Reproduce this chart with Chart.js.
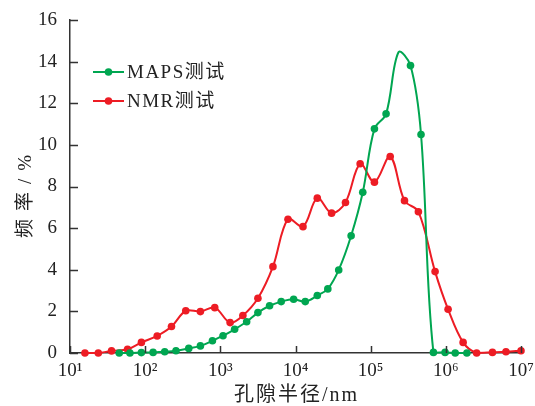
<!DOCTYPE html>
<html>
<head>
<meta charset="utf-8">
<script src="https://cdn.jsdelivr.net/npm/chart.js@4.4.1/dist/chart.umd.min.js"></script>
<style>
html,body{margin:0;padding:0;background:#fff;}
#wrap{width:535px;height:406px;position:relative;}
</style>
</head>
<body>
<div id="wrap"><canvas id="c" width="535" height="406"></canvas></div>
<script>
// pore radius (nm) and frequency (%)
const mapsRadius = [45.2, 62.7, 89.1, 127.4, 182, 257, 380, 543, 785, 1086, 1549, 2239, 3162, 4519, 6457, 9441, 13490, 19498, 26915, 37584, 54954, 78524, 112202, 160325, 234423, 338844, 467735, 683912, 977237, 1333521, 1905461];
const mapsFreq   = [0, 0, 0.02, 0.03, 0.06, 0.11, 0.22, 0.34, 0.59, 0.83, 1.14, 1.5, 1.94, 2.27, 2.47, 2.58, 2.47, 2.76, 3.08, 3.99, 5.63, 7.72, 10.77, 11.49, 14.45, 13.81, 10.5, 0.03, 0.03, 0, 0];
const mapsHidden = [24]; // index of the curve point drawn without a marker
const nmrRadius  = [15.8, 23.8, 35.7, 58.3, 89.1, 144.5, 223.9, 346.7, 543, 843, 1349, 1995, 3162, 5012, 7943, 12589, 19498, 30200, 46238, 72444, 112202, 181970, 281838, 431519, 719449, 1071519, 1698244, 2570396, 4168694, 6309573, 10000000];
const nmrFreq    = [0, 0, 0.1, 0.18, 0.51, 0.82, 1.27, 2.03, 1.99, 2.18, 1.46, 1.8, 2.63, 4.15, 6.43, 6.07, 7.44, 6.72, 7.23, 9.09, 8.21, 9.44, 7.32, 6.79, 3.91, 2.10, 0.51, 0.0, 0.03, 0.06, 0.11];
const seriesNames = ['MAPS测试', 'NMR测试'];
const xTickExps = [1, 2, 3, 4, 5, 6, 7];
const yTicks = [0, 2, 4, 6, 8, 10, 12, 14, 16];
const xTitle = '孔隙半径/nm';
const yTitle = '频率/%';

const GREEN = '#00a651';
const RED = '#ed1c24';
const AXIS = '#333333';
const TEXT = '#222222';
const SERIF = '"Liberation Serif", "Noto Sans CJK SC", serif';
const SUP = {'0':'⁰','1':'¹','2':'²','3':'³','4':'⁴','5':'⁵','6':'⁶','7':'⁷','8':'⁸','9':'⁹'};

const mk = (xs, ys) => xs.map((x, i) => ({x: x, y: ys[i]}));

const inwardTicks = {
  id: 'inwardTicks',
  afterDraw(chart) {
    const ctx = chart.ctx, xs = chart.scales.x, ys = chart.scales.y;
    const a = chart.chartArea;
    ctx.save();
    ctx.strokeStyle = AXIS; ctx.lineWidth = 1.5;
    ctx.beginPath();
    xTickExps.forEach(e => {
      const px = Math.round(xs.getPixelForValue(Math.pow(10, e))) + 0.5;
      ctx.moveTo(px, a.bottom); ctx.lineTo(px, a.bottom - 7);
    });
    yTicks.forEach(v => {
      const py = Math.round(ys.getPixelForValue(v)) + 0.5;
      ctx.moveTo(a.left, py); ctx.lineTo(a.left + 8, py);
    });
    ctx.stroke();
    ctx.restore();
  }
};

const textPlugin = {
  id: 'textExtras',
  afterDraw(chart) {
    const ctx = chart.ctx;
    const a = chart.chartArea;
    ctx.save();
    // legend
    const rows = [{c: GREEN, y: 72}, {c: RED, y: 101}];
    rows.forEach((r, i) => {
      ctx.strokeStyle = r.c; ctx.lineWidth = 2;
      ctx.beginPath(); ctx.moveTo(93, r.y); ctx.lineTo(124, r.y); ctx.stroke();
      ctx.fillStyle = r.c;
      ctx.beginPath(); ctx.arc(108.5, r.y, 3.8, 0, Math.PI * 2); ctx.fill();
      ctx.fillStyle = TEXT;
      ctx.font = '19px ' + SERIF;
      ctx.textBaseline = 'middle';
      ctx.textAlign = 'left';
      ctx.letterSpacing = '1.5px';
      ctx.fillText(seriesNames[i], 127, r.y + 1);
    });
    // axis titles
    ctx.font = '20px ' + SERIF;
    ctx.letterSpacing = '2px';
    ctx.textAlign = 'center';
    ctx.textBaseline = 'middle';
    ctx.fillStyle = TEXT;
    ctx.fillText(xTitle, (a.left + a.right) / 2 + 1, 396);
    ctx.font = '19px ' + SERIF;
    ctx.translate(26, (a.top + a.bottom) / 2 + 6);
    ctx.rotate(-Math.PI / 2);
    ctx.letterSpacing = '8px';
    ctx.fillText(yTitle, 0, 0);
    ctx.restore();
  }
};

new Chart(document.getElementById('c'), {
  type: 'line',
  data: {
    datasets: [
      {
        label: seriesNames[0],
        data: mk(mapsRadius, mapsFreq),
        borderColor: GREEN, backgroundColor: GREEN,
        borderWidth: 2,
        pointRadius: mapsFreq.map((v, i) => mapsHidden.includes(i) ? 0 : 3.8),
        pointBorderWidth: 0,
        tension: 0.35,
        clip: false
      },
      {
        label: seriesNames[1],
        data: mk(nmrRadius, nmrFreq),
        borderColor: RED, backgroundColor: RED,
        borderWidth: 2,
        pointRadius: 3.8,
        pointBorderWidth: 0,
        tension: 0.35,
        clip: false
      }
    ]
  },
  plugins: [inwardTicks, textPlugin],
  options: {
    responsive: false,
    animation: false,
    devicePixelRatio: 1,
    layout: {padding: {left: 0, right: 14, top: 20, bottom: 0}},
    plugins: {legend: {display: false}, tooltip: {enabled: false}},
    scales: {
      x: {
        type: 'logarithmic',
        min: 10, max: 1e7,
        afterBuildTicks(scale) {
          scale.ticks = xTickExps.map(e => ({value: Math.pow(10, e)}));
        },
        afterFit(scale) {
          scale.height = 53;
          scale.paddingLeft = 0; scale.paddingRight = 0;
        },
        ticks: {
          autoSkip: false, maxRotation: 0,
          padding: 7,
          color: TEXT,
          font: {family: SERIF, size: 19},
          callback(v) {
            const e = Math.round(Math.log10(v));
            return '10' + String(e).split('').map(d => SUP[d]).join('');
          }
        },
        grid: {display: true, drawOnChartArea: false, drawTicks: false},
        border: {display: true, color: AXIS, width: 1.5},
        title: {display: false, text: xTitle}
      },
      y: {
        type: 'linear',
        min: 0, max: 16,
        afterBuildTicks(scale) {
          scale.ticks = yTicks.map(v => ({value: v}));
        },
        afterFit(scale) {
          scale.width = 70;
          scale.paddingTop = 0; scale.paddingBottom = 0;
        },
        ticks: {
          padding: 13,
          color: TEXT,
          font: {family: SERIF, size: 19}
        },
        grid: {display: true, drawOnChartArea: false, drawTicks: false},
        border: {display: true, color: AXIS, width: 1.5},
        title: {display: false, text: yTitle}
      }
    }
  }
});
</script>
</body>
</html>
